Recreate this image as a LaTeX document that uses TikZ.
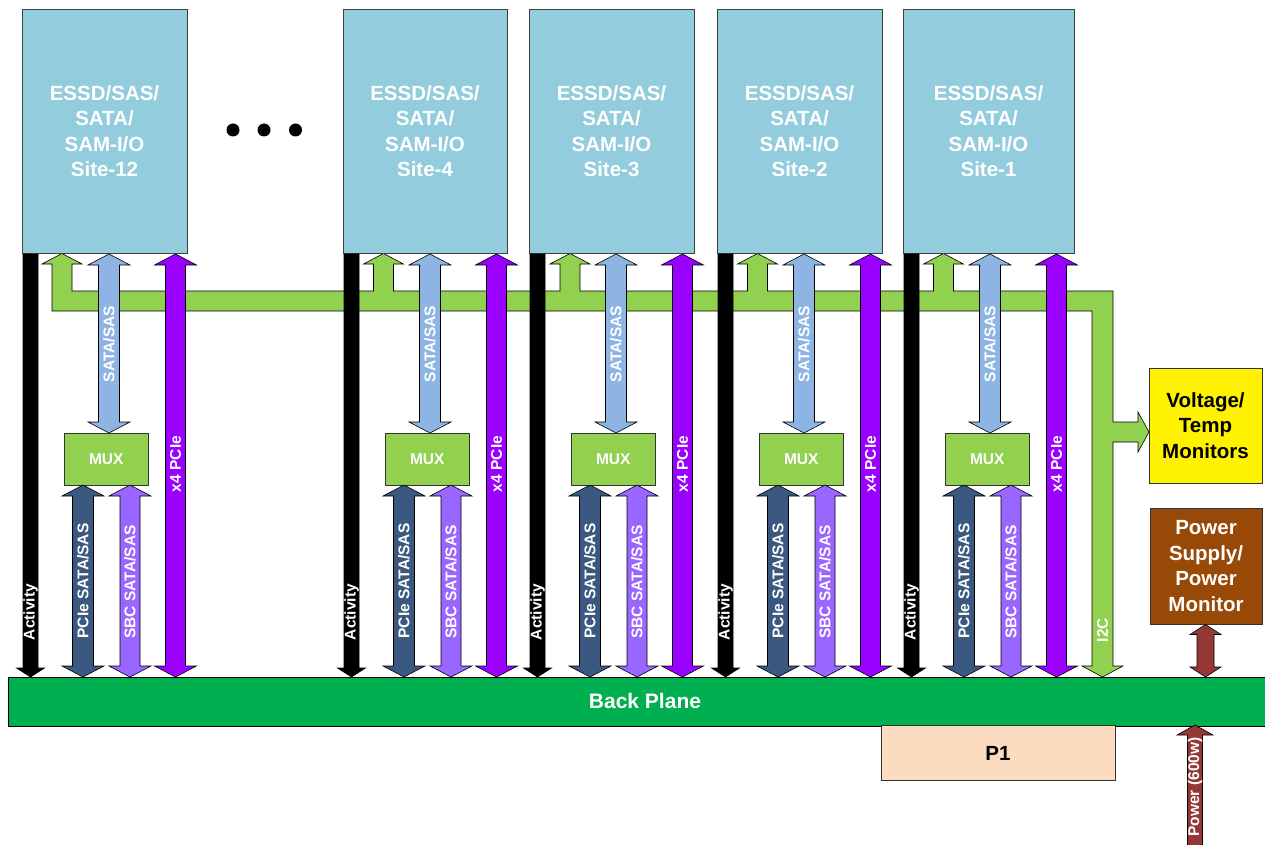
\documentclass[tikz,border=0pt]{standalone}
\usepackage{fontspec}
\setmainfont{Liberation Sans}
\usetikzlibrary{calc}
\definecolor{siteblue}{HTML}{93CDDD}
\definecolor{busgreen}{HTML}{92D050}
\definecolor{satablue}{HTML}{8EB4E3}
\definecolor{pciedark}{RGB}{59,89,128}
\definecolor{sbcpurple}{HTML}{9966FF}
\definecolor{pciepurple}{HTML}{9900FF}
\definecolor{bpgreen}{HTML}{00B050}
\definecolor{peach}{HTML}{FCDCC0}
\definecolor{brownbox}{HTML}{984807}
\definecolor{powred}{HTML}{953735}
\newcommand{\dblarrow}[7]{% style, cx, top, bottom, shaft half, head half, head length
  \draw[#1] (#2,#3) -- (#2+#6,#3+#7) -- (#2+#5,#3+#7) -- (#2+#5,#4-#7) -- (#2+#6,#4-#7) -- (#2,#4)
    -- (#2-#6,#4-#7) -- (#2-#5,#4-#7) -- (#2-#5,#3+#7) -- (#2-#6,#3+#7) -- cycle;}
\tikzset{
  outl/.style={draw=black, line width=0.6pt, line join=miter},
  sitebox/.style={draw=black!75, line width=0.8pt, fill=siteblue, inner sep=0pt, align=center,
    text=white, font=\fontsize{20.5}{25.5}\selectfont\bfseries},
  muxbox/.style={draw=black!80, line width=0.7pt, fill=busgreen, inner sep=0pt,
    text=white, font=\fontsize{15.5}{18}\selectfont\bfseries},
  vlabel/.style={rotate=90, inner sep=0pt, text=white, font=\fontsize{15.5}{18}\selectfont\bfseries},
  bigbox/.style={draw=black!80, line width=0.8pt, inner sep=0pt, align=center,
    font=\fontsize{20.5}{25.5}\selectfont\bfseries},
  dotnode/.style={circle, fill=black, inner sep=0pt, minimum size=13pt}
}
\begin{document}
\begin{tikzpicture}[x=1pt,y=-1pt]
\useasboundingbox (0,0) rectangle (1265,845);
% green I2C bus with stubs
\draw[outl, fill=busgreen] (52,311) -- (1092,311) -- (1092,666) -- (1082,666) -- (1102.5,677) -- (1123,666)
  -- (1113,666) -- (1113,442) -- (1138,442) -- (1138,452) -- (1149,432) -- (1138,412) -- (1138,422)
  -- (1113,422) -- (1113,291)
  -- (953.5,291) -- (953.5,264) -- (963.5,264) -- (943.5,253.5) -- (923.5,264) -- (933.5,264) -- (933.5,291)
  -- (767.5,291) -- (767.5,264) -- (777.5,264) -- (757.5,253.5) -- (737.5,264) -- (747.5,264) -- (747.5,291)
  -- (580,291) -- (580,264) -- (590,264) -- (570,253.5) -- (550,264) -- (560,264) -- (560,291)
  -- (393.5,291) -- (393.5,264) -- (403.5,264) -- (383.5,253.5) -- (363.5,264) -- (373.5,264) -- (373.5,291)
  -- (72,291) -- (72,264) -- (82,264) -- (62,253.5) -- (42,264) -- (52,264) -- cycle;
\node[outl, fill=bpgreen, minimum width=1260pt, minimum height=49pt, anchor=north west, inner sep=0pt] (bp) at (8,677) {};
\node[text=white, font=\fontsize{21}{24}\selectfont\bfseries] (bplabel) at (645,701) {Back Plane};
\node[bigbox, fill=peach, minimum width=234pt, minimum height=55pt, font=\fontsize{20.5}{24}\selectfont\bfseries] (p1) at (998,753) {P1};
\foreach \L/\R/\n in {22/187/12, 343/507/4, 529/694/3, 717/882/2, 903/1074/1}{
  \pgfmathsetmacro\W{\R-\L}
  \pgfmathsetmacro\C{(\R+\L)/2}
  \node[sitebox, minimum width=\W pt, minimum height=244.5pt] (site\n) at (\C,131.25) {ESSD/SAS/\\SATA/\\SAM-I/O\\Site-\n};
  % activity
  \draw[outl, fill=black] (\L+1,254) -- (\L+16,254) -- (\L+16,668) -- (\L+22.5,668) -- (\L+8.5,677)
     -- (\L-5.5,668) -- (\L+1,668) -- cycle;
  \node[vlabel] (act\n) at (\L+8.5,612) {Activity};
  % SATA/SAS
  \dblarrow{outl, fill=satablue}{\L+87}{254}{433}{10.5}{21}{11}
  \node[vlabel] (sata\n) at (\L+87,344) {SATA/SAS};
  % x4 PCIe
  \dblarrow{outl, fill=pciepurple}{\L+153.5}{254}{677}{10}{21}{11}
  \node[vlabel] (xpcie\n) at (\L+153.5,464) {x4 PCIe};
  % MUX
  \node[muxbox, minimum width=84.5pt, minimum height=52pt] (mux\n) at (\L+84.25,459) {MUX};
  % PCIe SATA/SAS
  \dblarrow{outl, fill=pciedark}{\L+61}{485}{677}{10.5}{21}{11}
  \node[vlabel] (psata\n) at (\L+61,581) {PCIe SATA/SAS};
  % SBC SATA/SAS
  \dblarrow{outl, fill=sbcpurple}{\L+108}{485}{677}{10}{21}{11}
  \node[vlabel] (sbc\n) at (\L+108,582) {SBC SATA/SAS};
}
\node[vlabel] (i2c) at (1102.5,630) {I2C};
% dots
\node[dotnode] (d1) at (233,130) {};
\node[dotnode] (d2) at (264,130) {};
\node[dotnode] (d3) at (295.5,130) {};
% monitors
\node[bigbox, fill=yellow, minimum width=113pt, minimum height=115pt] (vt) at (1205.5,425.5) {Voltage/\\Temp\\Monitors};
\node[bigbox, fill=brownbox, text=white, minimum width=112pt, minimum height=116pt] (ps) at (1206,566) {Power\\Supply/\\Power\\Monitor};
\dblarrow{outl, fill=powred}{1205.5}{624.5}{677}{8.5}{15.5}{10}
\begin{scope}
  \clip (0,0) rectangle (1265,845);
  \dblarrow{outl, fill=powred}{1195}{725}{856}{7.5}{18}{10}
\end{scope}
\node[vlabel] (pw) at (1195,787) {Power (600w)};
\end{tikzpicture}
\end{document}
